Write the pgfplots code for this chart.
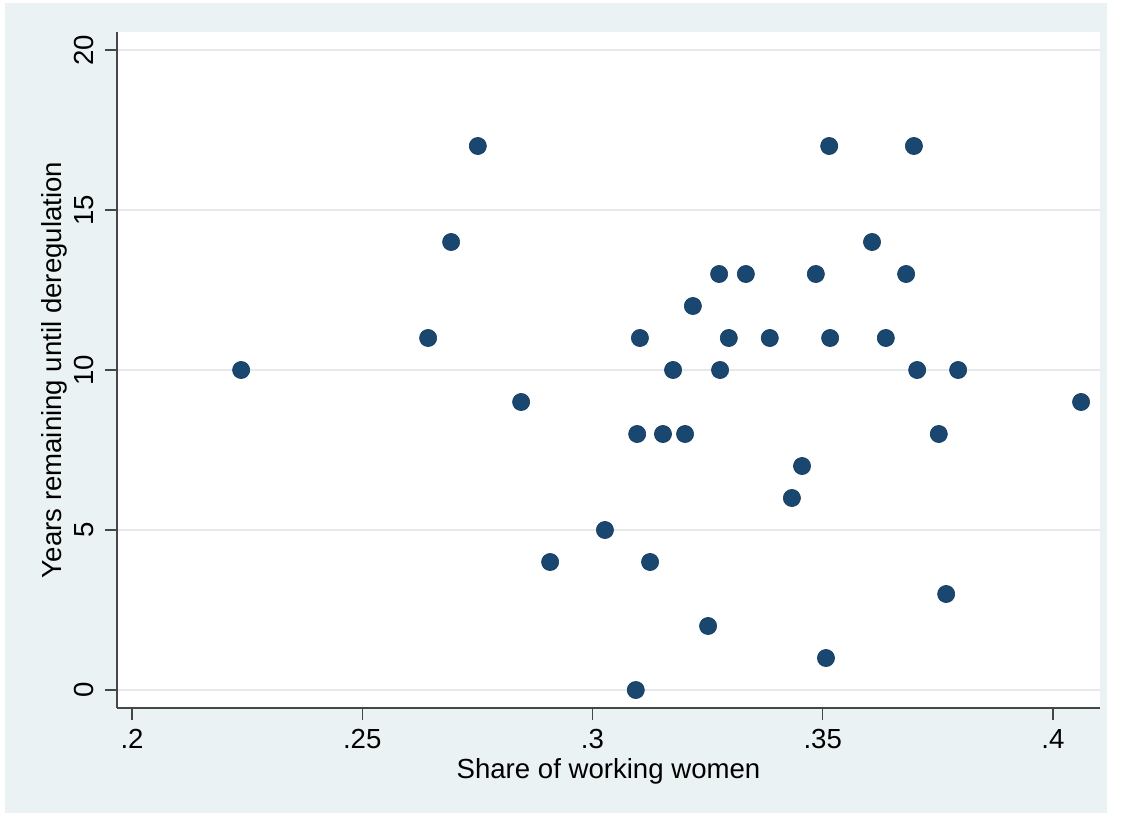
\documentclass[border=0pt]{standalone}
\usepackage{pgfplots}
\pgfplotsset{compat=1.18}
\usepackage{fontspec}
\setmainfont{Liberation Sans}
\definecolor{bgc}{RGB}{234,242,243}
\definecolor{gridc}{RGB}{228,234,236}
\definecolor{navy}{RGB}{26,71,111}
\definecolor{axc}{RGB}{70,70,70}
\begin{document}
\begin{tikzpicture}
\path[use as bounding box] (-58.5pt,-54pt) rectangle (502.5pt,354pt);
\fill[white] (-58.5pt,-54pt) rectangle (502.5pt,354pt);
\fill[bgc] (-56pt,-52.5pt) rectangle (495pt,352.5pt);
\begin{axis}[
  scale only axis,
  width=491.5pt, height=338pt,
  xmin=0.19674, xmax=0.41021,
  ymin=-0.5625, ymax=20.5625,
  axis x line*=bottom, axis y line*=left,
  axis line style={draw=axc, line width=0.8pt},
  axis background/.style={fill=white},
  xtick={0.2,0.25,0.3,0.35,0.4},
  xticklabels={.2,.25,.3,.35,.4},
  ytick={0,5,10,15,20},
  yticklabels={0,5,10,15,20},
  tick align=outside,
  major tick length=6pt,
  tick style={draw=axc, line width=0.7pt},
  ymajorgrids,
  grid style={draw=gridc, line width=0.7pt},
  /pgf/number format/assume math mode=true,
  tick label style={font=\fontsize{13.8}{16}\selectfont, text=black},
  xticklabel style={anchor=north, inner sep=0pt, yshift=-4.5pt},
  yticklabel style={rotate=90, anchor=south, inner sep=0pt, yshift=5.5pt},
  xlabel={Share of working women},
  ylabel={Years remaining until deregulation},
  label style={font=\fontsize{13.8}{16}\selectfont},
  xlabel style={at={(axis description cs:0.5,0)}, anchor=base, inner sep=0pt, yshift=-35pt},
  ylabel style={at={(axis description cs:0,0.5)}, anchor=base, inner sep=0pt, yshift=27.5pt},
  clip=false,
]
\addplot[only marks, mark=*, mark size=4.3pt, mark options={fill=navy, draw=navy!85!black, line width=0.3pt}] table {
x y
0.2237 10
0.2643 11
0.2693 14
0.2751 17
0.2845 9
0.2908 4
0.3027 5
0.3103 11
0.3097 8
0.3094 0
0.3125 4
0.3153 8
0.3175 10
0.3201 8
0.3218 12
0.3251 2
0.3275 13
0.3277 10
0.3296 11
0.3333 13
0.3385 11
0.3433 6
0.3455 7
0.3485 13
0.3507 1
0.3514 17
0.3516 11
0.3607 14
0.3637 11
0.3681 13
0.3698 17
0.3705 10
0.3752 8
0.3768 3
0.3794 10
0.4061 9
};
\end{axis}
\end{tikzpicture}
\end{document}
